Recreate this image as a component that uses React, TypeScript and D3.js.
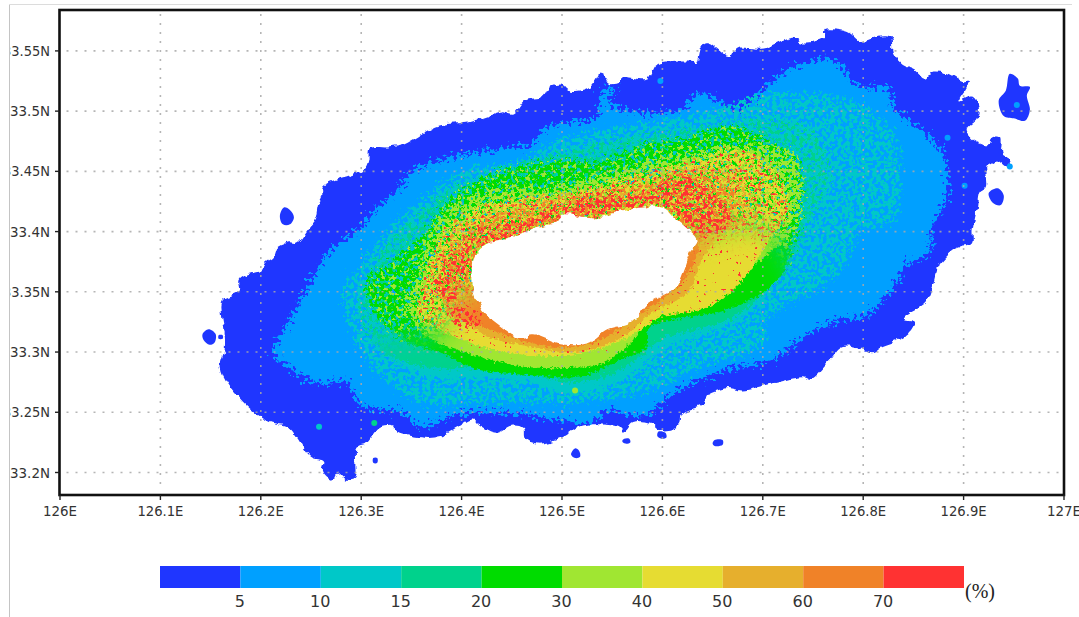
import * as d3 from 'd3';

type Pt = [number, number];

// Tick labels and colour bar
const lonTicks = [126, 126.1, 126.2, 126.3, 126.4, 126.5, 126.6, 126.7, 126.8, 126.9, 127];
const latTicks = [33.2, 33.25, 33.3, 33.35, 33.4, 33.45, 33.5, 33.55];
const barLevels = ['5', '10', '15', '20', '30', '40', '50', '60', '70'];
const barColors = ['#1f36ff', '#00a0ff', '#00c8c8', '#00d28c', '#00dc00', '#a0e632', '#e6dc32', '#e6af2d', '#f08228', '#ff3232'];

// Coast outline, offsets from 126E / 33N (degrees)
const coast: Pt[] = [
  [.161,.333],[.162,.343],[.171,.347],[.179,.351],[.179,.360],[.192,.366],[.201,.368],[.204,.374],[.212,.379],[.216,.387],
  [.226,.391],[.236,.391],[.246,.401],[.254,.410],[.257,.422],[.261,.429],[.262,.437],[.276,.443],[.292,.447],[.304,.453],
  [.307,.459],[.309,.469],[.329,.470],[.342,.472],[.351,.476],[.378,.488],[.408,.491],[.441,.499],[.451,.498],[.463,.509],
  [.481,.512],[.488,.520],[.500,.522],[.508,.517],[.528,.520],[.538,.532],[.541,.533],[.546,.523],[.558,.524],[.561,.528],
  [.585,.527],[.594,.538],[.630,.541],[.634,.540],[.640,.555],[.647,.556],[.667,.545],[.674,.552],[.700,.552],[.730,.561],
  [.739,.557],[.760,.561],[.762,.567],[.784,.566],[.799,.557],[.810,.561],[.827,.561],[.830,.548],[.840,.538],[.852,.534],
  [.862,.527],[.867,.532],[.881,.532],[.899,.525],[.905,.525],[.903,.519],[.896,.509],[.909,.512],[.915,.503],[.913,.493],
  [.903,.484],[.914,.474],[.926,.472],[.928,.478],[.937,.478],[.938,.465],[.947,.459],[.944,.454],[.934,.459],[.928,.457],
  [.923,.454],[.923,.437],[.916,.432],[.913,.418],[.909,.401],[.908,.390],[.893,.386],[.876,.372],[.869,.354],[.862,.341],
  [.840,.328],[.851,.325],[.844,.314],[.817,.304],[.810,.300],[.800,.302],[.779,.304],[.767,.293],[.747,.277],[.739,.279],
  [.710,.274],[.680,.268],[.664,.270],[.644,.264],[.640,.256],[.620,.249],[.617,.239],[.600,.235],[.589,.241],[.571,.242],
  [.561,.234],[.555,.238],[.521,.239],[.501,.229],[.475,.224],[.463,.229],[.461,.237],[.451,.239],[.435,.233],[.418,.239],
  [.411,.244],[.395,.237],[.375,.229],[.336,.234],[.332,.239],[.319,.238],[.304,.224],[.296,.221],[.294,.195],[.286,.194],
  [.276,.200],[.271,.194],[.261,.202],[.262,.209],[.249,.213],[.236,.229],[.227,.238],[.209,.242],[.197,.248],[.182,.259],
  [.167,.274],[.160,.288],[.164,.302],[.164,.316],
];

// Detached islets, same offsets
const islets: Pt[][] = [
  [[.946,.531],[.954,.527],[.956,.521],[.966,.520],[.963,.513],[.966,.501],[.961,.492],[.950,.494],[.940,.496],[.935,.509],[.942,.517]],
  [[.925,.432],[.934,.436],[.940,.430],[.937,.422],[.929,.424]],
  [[.223,.420],[.229,.418],[.233,.412],[.229,.406],[.222,.406],[.219,.413]],
  [[.142,.315],[.148,.319],[.155,.315],[.154,.308],[.149,.306],[.143,.310]],
  [[.158,.314],[.162,.314],[.162,.311],[.158,.311]],
  [[.312,.212],[.316,.212],[.316,.208],[.312,.208]],
  [[.513,.220],[.517,.218],[.518,.213],[.513,.212],[.509,.215]],
  [[.562,.228],[.567,.228],[.568,.225],[.563,.224],[.560,.226]],
  [[.596,.234],[.603,.233],[.604,.229],[.599,.228],[.595,.230]],
  [[.652,.227],[.660,.227],[.660,.223],[.652,.222],[.650,.224]],
];

// Contour bands, from the lowest level to the highest
const band5: Pt[] = [
  [.212,.298],[.229,.327],[.252,.362],[.272,.387],[.296,.401],[.316,.420],[.336,.434],[.349,.449],[.369,.457],[.388,.462],[.438,.469],
  [.471,.473],[.481,.484],[.498,.490],[.535,.495],[.538,.515],[.553,.519],[.548,.507],[.588,.498],[.617,.501],[.637,.515],
  [.677,.501],[.704,.520],[.724,.534],[.770,.542],[.797,.520],[.824,.520],[.830,.503],[.854,.487],[.879,.465],[.883,.429],
  [.869,.404],[.866,.382],[.844,.374],[.830,.354],[.800,.329],[.777,.327],[.739,.312],[.710,.293],[.677,.288],[.637,.277],
  [.598,.258],[.581,.246],[.545,.252],[.531,.241],[.508,.242],[.461,.248],[.401,.249],[.356,.238],[.346,.248],[.296,.258],
  [.289,.274],[.256,.274],[.222,.291],
];
const band10: Pt[] = [
  [.286,.329],[.282,.351],[.306,.379],[.329,.404],[.351,.420],[.375,.437],[.405,.451],[.458,.459],[.471,.465],[.501,.478],
  [.538,.484],[.577,.490],[.617,.495],[.650,.501],[.704,.515],[.724,.515],[.774,.512],[.804,.503],[.830,.482],[.837,.457],
  [.837,.432],[.830,.410],[.797,.399],[.784,.376],[.764,.357],[.730,.341],[.704,.327],[.700,.307],[.664,.293],[.637,.288],
  [.598,.271],[.561,.263],[.511,.258],[.468,.258],[.418,.258],[.361,.258],[.316,.283],[.296,.307],
];
const band12: Pt[] = [
  [.418,.279],[.461,.277],[.511,.266],[.551,.274],[.578,.288],[.600,.304],[.650,.318],[.682,.331],[.727,.376],[.752,.418],
  [.767,.451],[.747,.484],[.697,.493],[.637,.486],[.578,.480],[.508,.468],[.438,.451],[.388,.434],[.339,.401],[.309,.368],
  [.299,.335],[.319,.302],[.369,.281],
];
const band15: Pt[] = [
  [.418,.287],[.461,.284],[.511,.275],[.551,.282],[.578,.296],[.600,.311],[.650,.322],[.682,.335],[.727,.376],[.752,.418],
  [.767,.451],[.747,.484],[.697,.493],[.637,.486],[.578,.480],[.508,.468],[.438,.451],[.388,.434],[.339,.401],[.309,.368],
  [.299,.335],[.319,.302],[.369,.287],
];
const band20: Pt[] = [
  [.306,.357],[.309,.339],[.342,.310],[.381,.299],[.418,.285],[.468,.281],[.511,.279],[.531,.283],[.565,.296],[.583,.303],
  [.587,.320],[.624,.329],[.664,.335],[.713,.358],[.732,.395],[.738,.434],[.734,.457],[.704,.476],[.667,.487],[.624,.478],
  [.588,.473],[.538,.459],[.498,.459],[.458,.454],[.418,.443],[.381,.420],[.361,.395],[.336,.379],
];
const band30: Pt[] = [
  [.342,.341],[.368,.312],[.411,.298],[.461,.288],[.511,.287],[.535,.289],[.561,.302],[.578,.318],[.585,.332],[.624,.343],
  [.667,.356],[.704,.381],[.730,.399],[.740,.434],[.730,.465],[.680,.473],[.637,.465],[.594,.462],[.545,.449],[.488,.437],
  [.448,.437],[.413,.430],[.381,.416],[.361,.385],[.355,.360],
];
const band40: Pt[] = [
  [.355,.333],[.381,.318],[.431,.302],[.498,.297],[.545,.305],[.578,.318],[.598,.329],[.644,.337],[.677,.357],[.707,.393],
  [.727,.418],[.712,.451],[.677,.468],[.617,.455],[.558,.443],[.498,.430],[.438,.426],[.393,.408],[.368,.376],[.358,.343],
];
const band50: Pt[] = [
  [.383,.335],[.408,.322],[.428,.312],[.458,.306],[.501,.300],[.533,.303],[.563,.314],[.587,.331],[.627,.351],[.640,.378],
  [.657,.397],[.687,.414],[.682,.447],[.627,.455],[.578,.443],[.508,.432],[.448,.422],[.403,.405],[.378,.381],[.373,.351],
];
const band60: Pt[] = [
  [.390,.331],[.408,.325],[.435,.317],[.458,.310],[.501,.304],[.538,.310],[.577,.331],[.617,.356],[.632,.376],[.642,.397],
  [.667,.405],[.672,.434],[.632,.449],[.578,.439],[.508,.429],[.453,.420],[.408,.403],[.386,.381],[.380,.351],
];
const band70: Pt[][] = [
  [[.398,.385],[.418,.400],[.468,.411],[.498,.422],[.538,.432],[.578,.430],[.617,.449],[.637,.441],[.669,.414],[.659,.400],
   [.632,.400],[.607,.420],[.538,.415],[.493,.410],[.458,.398],[.418,.390]],
  [[.388,.381],[.403,.385],[.408,.370],[.393,.360],[.383,.370]],
  [[.388,.335],[.413,.335],[.418,.322],[.393,.322]],
  [[.373,.364],[.393,.356],[.393,.343],[.375,.347]],
];

// South flank of the mountain, where the field is smooth
const southFlank: Pt[] = [
  [.378,.314],[.408,.343],[.538,.368],[.637,.393],[.700,.400],[.735,.335],[.657,.235],[.378,.235],[.239,.260],[.319,.302],
];

// Unobserved area in the middle of the island
const hole: Pt[] = [
  [.410,.366],[.413,.379],[.425,.390],[.448,.395],[.461,.399],[.471,.403],[.495,.408],[.501,.414],[.535,.411],[.555,.416],
  [.600,.420],[.614,.410],[.624,.403],[.635,.393],[.627,.382],[.620,.366],[.612,.353],[.587,.341],[.568,.324],[.545,.318],
  [.528,.308],[.501,.306],[.471,.314],[.458,.312],[.435,.324],[.420,.335],[.411,.351],
];

// Isolated spots: lon offset, lat offset, colour class
const spots: [number, number, number][] = [
  [.313,.241,3], [.258,.238,2], [.513,.268,5], [.946,.454,1], [.953,.505,1], [.884,.478,1], [.901,.438,1], [.598,.525,1],
];

// One paint layer: polygon, colour class, grain filter, and which flank shows it
const layers: { pts: Pt[]; level: number; grain: string; side?: 'south' | 'north' }[] = [
  { pts: band5, level: 1, grain: 'edgeWide' },
  { pts: band10, level: 2, grain: 'g45a' },
  { pts: band12, level: 2, grain: 'g70a' },
  { pts: band12, level: 2, grain: 'edgeMid', side: 'south' },
  { pts: band15, level: 3, grain: 'g35a', side: 'north' },
  { pts: band15, level: 3, grain: 'edgeMid', side: 'south' },
  { pts: band20, level: 4, grain: 'g70b', side: 'north' },
  { pts: band20, level: 5, grain: 'g15a', side: 'north' },
  { pts: band20, level: 4, grain: 'edgeFine', side: 'south' },
  { pts: band30, level: 5, grain: 'g50a', side: 'north' },
  { pts: band30, level: 5, grain: 'edgeFine', side: 'south' },
  { pts: band40, level: 6, grain: 'g50b', side: 'north' },
  { pts: band40, level: 6, grain: 'edgeFine', side: 'south' },
  { pts: band40, level: 8, grain: 'g15b', side: 'north' },
  { pts: band50, level: 7, grain: 'g35b', side: 'north' },
  { pts: band50, level: 7, grain: 'edgeFine', side: 'south' },
  { pts: band40, level: 9, grain: 'g05', side: 'north' },
  { pts: band40, level: 9, grain: 'g02' },
  { pts: band60, level: 8, grain: 'g50c', side: 'north' },
  { pts: band60, level: 8, grain: 'edgeFine', side: 'south' },
];

const W = 1079;
const H = 617;
const frame = { left: 59.5, right: 1064, top: 10, bottom: 495 };
const x = d3.scaleLinear().domain([126, 127]).range([60, 1064]);
const y = d3.scaleLinear().domain([33.2, 33.55]).range([472.5, 50.9]);
const barX = d3.scaleLinear().domain([0, 10]).range([160, 964]);

const soft = d3.line<Pt>().x((d) => x(126 + d[0])).y((d) => y(33 + d[1])).curve(d3.curveCatmullRomClosed.alpha(0.5));

const lonLabel = (v: number) => `${d3.format('.1~f')(v)}E`;
const latLabel = (v: number) => `${d3.format('.2~f')(v)}N`;

// Displaces the edges of a shape, to roughen them like the source raster
function Edge({ id, freq, scale, seed }: { id: string; freq: number; scale: number; seed: number }) {
  return (
    <filter id={id} filterUnits="userSpaceOnUse" x={0} y={0} width={W} height={H} colorInterpolationFilters="sRGB">
      <feTurbulence type="fractalNoise" baseFrequency={freq} numOctaves={2} seed={seed} result="t" />
      <feDisplacementMap in="SourceGraphic" in2="t" scale={scale} xChannelSelector="R" yChannelSelector="G" />
    </filter>
  );
}

// Same, and keeps only the pixels where a noise field is above a threshold
function Grain({ id, cut, seed }: { id: string; cut: number; seed: number }) {
  const k = 24;
  return (
    <filter id={id} filterUnits="userSpaceOnUse" x={0} y={0} width={W} height={H} colorInterpolationFilters="sRGB">
      <feTurbulence type="fractalNoise" baseFrequency={0.3} numOctaves={2} seed={seed} result="t" />
      <feDisplacementMap in="SourceGraphic" in2="t" scale={22} xChannelSelector="R" yChannelSelector="G" result="d" />
      <feTurbulence type="fractalNoise" baseFrequency={0.26} numOctaves={2} seed={seed + 40} result="n" />
      <feColorMatrix in="n" type="matrix" values={`0 0 0 0 0  0 0 0 0 0  0 0 0 0 0  ${k} 0 0 0 ${-k * cut}`} result="m" />
      <feComposite in="d" in2="m" operator="in" />
    </filter>
  );
}

export default function App() {
  const axisFont = { fontFamily: '"DejaVu Sans", sans-serif', fontSize: 14, fill: '#333' };
  const flank = soft(southFlank)!;
  return (
    <svg width={W} height={H} style={{ position: 'absolute', left: 0, top: 0, background: '#fff' }}>
      <defs>
        <Edge id="edgeWide" freq={0.28} scale={24} seed={3} />
        <Edge id="edgeMid" freq={0.3} scale={14} seed={8} />
        <Edge id="edgeFine" freq={0.35} scale={7} seed={14} />
        <Edge id="coastEdge" freq={0.12} scale={7} seed={21} />
        <Grain id="g70a" cut={0.46} seed={2} />
        <Grain id="g70b" cut={0.42} seed={43} />
        <Grain id="g45a" cut={0.46} seed={5} />
        <Grain id="g35a" cut={0.52} seed={7} />
        <Grain id="g50a" cut={0.48} seed={11} />
        <Grain id="g50b" cut={0.475} seed={13} />
        <Grain id="g50c" cut={0.55} seed={17} />
        <Grain id="g35b" cut={0.56} seed={19} />
        <Grain id="g15a" cut={0.6} seed={23} />
        <Grain id="g15b" cut={0.63} seed={29} />
        <Grain id="g05" cut={0.66} seed={31} />
        <Grain id="g02" cut={0.71} seed={47} />
        <Grain id="g55" cut={0.51} seed={37} />
        <filter id="fade" filterUnits="userSpaceOnUse" x={0} y={0} width={W} height={H}>
          <feGaussianBlur stdDeviation={12} />
        </filter>
        <mask id="coastMask" maskUnits="userSpaceOnUse" x={0} y={0} width={W} height={H}>
          <path d={soft(coast)!} fill="#fff" filter="url(#coastEdge)" />
        </mask>
        <mask id="southMask" maskUnits="userSpaceOnUse" x={0} y={0} width={W} height={H}>
          <path d={flank} fill="#fff" filter="url(#fade)" />
        </mask>
        <mask id="northMask" maskUnits="userSpaceOnUse" x={0} y={0} width={W} height={H}>
          <rect width={W} height={H} fill="#fff" />
          <path d={flank} fill="#000" filter="url(#fade)" />
        </mask>
        <clipPath id="pageClip"><rect x={10} y={5} width={W - 10} height={H - 5} /></clipPath>
      </defs>

      <line x1={9.5} x2={9.5} y1={4.5} y2={H} stroke="#c4c4c4" />
      <line x1={9.5} x2={1072} y1={4.5} y2={4.5} stroke="#dcdcdc" />

      {/* island */}
      <path d={soft(coast)!} fill={barColors[0]} filter="url(#coastEdge)" />
      {islets.map((d, i) => <path key={i} d={soft(d)!} fill={barColors[0]} />)}
      <g mask="url(#coastMask)">
        {layers.map((b, i) => (
          <g key={i} mask={b.side ? `url(#${b.side}Mask)` : undefined}>
            <path d={soft(b.pts)!} fill={barColors[b.level]} filter={`url(#${b.grain})`} />
          </g>
        ))}
        <g filter="url(#g55)">
          {band70.map((d, i) => <path key={i} d={soft(d)!} fill={barColors[9]} />)}
        </g>
      </g>
      {spots.map((d, i) => <circle key={i} cx={x(126 + d[0])} cy={y(33 + d[1])} r={3} fill={barColors[d[2]]} />)}
      <path d={soft(hole)!} fill="#fff" filter="url(#coastEdge)" />

      {/* dotted grid */}
      <g stroke="#a9a9a9" strokeWidth={1.6} strokeDasharray="2 7" opacity={0.85}>
        {latTicks.map((d) => <line key={d} x1={frame.left + 7} x2={frame.right - 3} y1={y(d)} y2={y(d)} />)}
        {lonTicks.slice(1, -1).map((d) => <line key={d} x1={x(d)} x2={x(d)} y1={frame.top + 4} y2={frame.bottom - 4} />)}
      </g>

      <rect x={frame.left} y={frame.top} width={frame.right - frame.left} height={frame.bottom - frame.top} fill="none" stroke="#111" strokeWidth={2.6} />

      {/* axes */}
      <g clipPath="url(#pageClip)">
        {latTicks.map((d) => (
          <g key={d}>
            <line x1={55} x2={frame.left} y1={y(d)} y2={y(d)} stroke="#222" strokeWidth={1.4} />
            <text x={50} y={y(d)} dy="0.36em" textAnchor="end" textLength={latLabel(d).length > 5 ? 47 : 40} lengthAdjust="spacingAndGlyphs" {...axisFont}>{latLabel(d)}</text>
          </g>
        ))}
      </g>
      {lonTicks.map((d) => (
        <g key={d}>
          <line x1={x(d)} x2={x(d)} y1={frame.bottom} y2={frame.bottom + 5} stroke="#222" strokeWidth={1.4} />
          <text x={x(d)} y={510.5} dy="0.36em" textAnchor="middle" textLength={lonLabel(d).length > 4 ? 46 : 34} lengthAdjust="spacingAndGlyphs" {...axisFont}>{lonLabel(d)}</text>
        </g>
      ))}

      {/* colour bar */}
      {barColors.map((c, i) => (
        <rect key={c} x={barX(i)} y={566} width={barX(i + 1) - barX(i)} height={22} fill={c} />
      ))}
      {barLevels.map((d, i) => (
        <text key={d} x={barX(i + 1) - 0.5} y={601} dy="0.36em" textAnchor="middle" fontFamily='"DejaVu Sans", sans-serif' fontSize={16} fill="#333">{d}</text>
      ))}
      <text x={965} y={598} fontFamily='"Liberation Serif", serif' fontSize={20} fill="#222">(%)</text>
    </svg>
  );
}
